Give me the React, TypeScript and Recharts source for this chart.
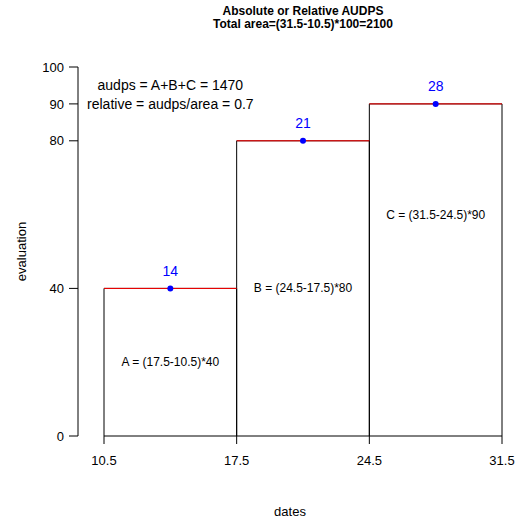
import React from "react";
import {
  ComposedChart,
  XAxis,
  YAxis,
  ReferenceArea,
  ReferenceLine,
  Scatter,
  LabelList,
} from "recharts";

const dates = [10.5, 17.5, 24.5, 31.5];
const evaluation = [40, 80, 90];
const midpoints = [14, 21, 28];
const yTicks = [0, 40, 80, 90, 100];
const areaLabels = ["A = (17.5-10.5)*40", "B = (24.5-17.5)*80", "C = (31.5-24.5)*90"];
const areaLabelY = [20, 40, 60];
const summaryLines = ["audps = A+B+C = 1470", "relative = audps/area = 0.7"];
const summaryY = [95, 90];
const summaryX = 14;

const FONT = "'Liberation Sans', Arial, sans-serif";

const points = midpoints.map((x, i) => ({ x, y: evaluation[i], label: String(x) }));
const areaText = midpoints.map((x, i) => ({ x, y: areaLabelY[i], text: areaLabels[i] }));
const summaryText = summaryLines.map((text, i) => ({ x: summaryX, y: summaryY[i], text }));

const renderText = (size: number) => (props: any) => (
  <text
    x={props.cx}
    y={props.cy}
    textAnchor="middle"
    dominantBaseline="central"
    fontSize={size}
    fontFamily={FONT}
    fill="#000"
  >
    {props.payload.text}
  </text>
);

export default function App() {
  return (
    <div style={{ position: "absolute", left: 0, top: 0, width: 523, height: 519, background: "#fff", fontFamily: FONT }}>
      <div
        style={{
          position: "absolute",
          left: 104,
          width: 398,
          top: 5,
          textAlign: "center",
          fontWeight: "bold",
          fontSize: 12,
          lineHeight: "13px",
          color: "#000",
        }}
      >
        <div>Absolute or Relative AUDPS</div>
        <div>Total area=(31.5-10.5)*100=2100</div>
      </div>
      <ComposedChart width={523} height={519} margin={{ top: 67, right: 21, bottom: 0, left: 0 }}>
        <XAxis
          type="number"
          dataKey="x"
          domain={[10.5, 31.5]}
          ticks={dates}
          padding={{ left: 26, right: 0 }}
          height={83}
          axisLine={false}
          tickLine={{ stroke: "#000" }}
          tickSize={8}
          tickMargin={12}
          tick={{ fill: "#000", fontSize: 13, fontFamily: FONT }}
          label={{ value: "dates", position: "insideBottom", offset: 3, fill: "#000", fontSize: 13, fontFamily: FONT }}
        />
        <YAxis
          type="number"
          dataKey="y"
          domain={[0, 100]}
          ticks={yTicks}
          width={78}
          axisLine={{ stroke: "#000" }}
          tickLine={{ stroke: "#000" }}
          tickSize={9}
          tickMargin={5}
          tick={{ fill: "#000", fontSize: 13, fontFamily: FONT }}
          label={{
            content: (p: any) => {
              const vb = p.viewBox || {};
              const cx = 21;
              const cy = (vb.y ?? 67) + (vb.height ?? 369) / 2;
              return (
                <text
                  x={cx}
                  y={cy}
                  transform={`rotate(-90 ${cx} ${cy})`}
                  textAnchor="middle"
                  dominantBaseline="central"
                  fontSize={13}
                  fontFamily={FONT}
                  fill="#000"
                >
                  evaluation
                </text>
              );
            },
          }}
        />
        {evaluation.map((h, i) => (
          <ReferenceArea
            key={`a${i}`}
            x1={dates[i]}
            x2={dates[i + 1]}
            y1={0}
            y2={h}
            fill="none"
            fillOpacity={0}
            stroke="#000"
            strokeWidth={1}
            strokeOpacity={1}
          />
        ))}
        {evaluation.map((h, i) => (
          <ReferenceLine
            key={`t${i}`}
            segment={[
              { x: dates[i], y: h },
              { x: dates[i + 1], y: h },
            ]}
            stroke="#ff0000"
            strokeWidth={1}
          />
        ))}
        <Scatter data={areaText} shape={renderText(12)} isAnimationActive={false} />
        <Scatter data={summaryText} shape={renderText(14)} isAnimationActive={false} />
        <Scatter data={points} fill="#0000ff" isAnimationActive={false} shape={(p: any) => <circle cx={p.cx} cy={p.cy} r={3} fill="#0000ff" />}>
          <LabelList dataKey="label" position="top" offset={8} fill="#0000ff" fontSize={14} fontFamily={FONT} />
        </Scatter>
      </ComposedChart>
    </div>
  );
}
